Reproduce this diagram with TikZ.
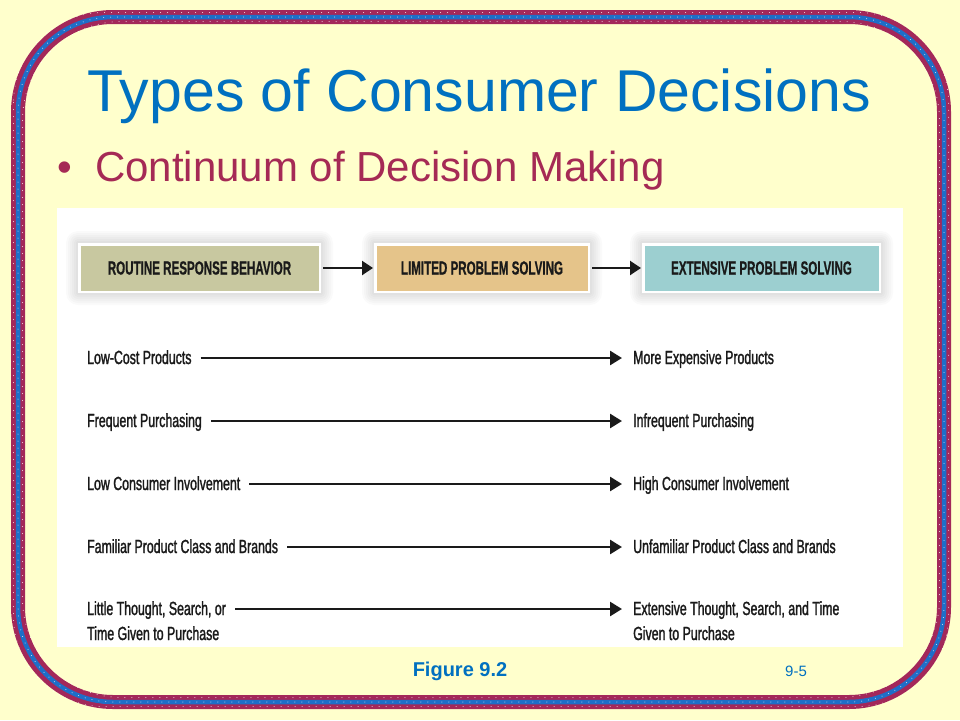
\documentclass[tikz,border=0pt]{standalone}
\usepackage{fontspec}
\setmainfont{Liberation Sans}
\newfontfamily\condfont[FakeStretch=0.65,FakeBold=1.4]{Liberation Sans}
\newfontfamily\condbfont[FakeStretch=0.61,FakeBold=0.6]{Liberation Sans}
\usetikzlibrary{arrows.meta}
\pgfdeclarelayer{bg}
\pgfdeclarelayer{shad}
\pgfsetlayers{bg,shad,main}
\definecolor{bgyellow}{HTML}{FFFFCC}
\definecolor{bordmaroon}{HTML}{A3285A}
\definecolor{bordblue}{HTML}{1E6EC8}
\definecolor{titleblue}{HTML}{0070C0}
\definecolor{bulletred}{HTML}{A52A55}
\definecolor{boxone}{HTML}{C8C8A0}
\definecolor{boxtwo}{HTML}{E5C48A}
\definecolor{boxthree}{HTML}{9CCFD0}
\definecolor{inkdark}{HTML}{1A1A1A}
\tikzset{
  stagebox/.style={draw=white, line width=2.5pt, minimum height=47.5pt, inner sep=0pt,
    font=\condbfont\bfseries\fontsize{19}{22}\selectfont, text=inkdark},
  rowtext/.style={inner sep=0pt, anchor=base west, text=inkdark,
    font=\condfont\fontsize{19}{22}\selectfont},
  rowarrow/.style={line width=2.6pt, -{Triangle[length=12pt,width=14pt]}, inkdark},
  stagearrow/.style={line width=2.4pt, -{Triangle[length=11pt,width=14pt]}, inkdark},
  dotrow/.style={white, opacity=0.85, line width=1pt, line cap=round, dash pattern=on 0pt off 7pt}
}
\begin{document}
\begin{tikzpicture}[x=1pt,y=-1pt]
\begin{pgfonlayer}{bg}
  \fill[bgyellow] (0,0) rectangle (960,720);
  \draw[bordmaroon, line width=14pt, rounded corners=95pt] (18,17) rectangle (944,702);
  \draw[bordblue, line width=4.5pt, rounded corners=95pt] (18,17) rectangle (944,702);
  \draw[dotrow, rounded corners=90pt] (13.5,12.5) rectangle (948.5,706.5);
  \draw[dotrow, rounded corners=95pt] (18,17) rectangle (944,702);
  \draw[dotrow, rounded corners=99pt] (22.5,21.5) rectangle (939.5,697.5);
  \fill[white] (57,208) rectangle (903,647);
\end{pgfonlayer}

% title and bullet
\node[anchor=base, inner sep=0pt, text=titleblue, font=\fontsize{59}{66}\selectfont]
  (title) at (479,111) {Types of Consumer Decisions};
\node[anchor=base west, inner sep=0pt, text=bulletred, font=\fontsize{42}{48}\selectfont]
  (bul) at (57,181) {•};
\node[anchor=base west, inner sep=0pt, text=bulletred, font=\fontsize{42}{48}\selectfont]
  (sub) at (95,181) {Continuum of Decision Making};

% stage boxes
\node[stagebox, fill=boxone, minimum width=240.5pt] (b1) at (199.5,268) {ROUTINE RESPONSE BEHAVIOR};
\node[stagebox, fill=boxtwo, minimum width=213.5pt] (b2) at (482,268) {LIMITED PROBLEM SOLVING};
\node[stagebox, fill=boxthree, minimum width=236.5pt] (b3) at (761.5,268) {EXTENSIVE PROBLEM SOLVING};
\begin{pgfonlayer}{shad}
  \foreach \n in {b1,b2,b3}{
    \foreach \s in {2,4,...,12}{
      \fill[black, opacity=0.018, rounded corners=\s pt]
        ([xshift=-\s pt, yshift=-\s pt]\n.south west) rectangle ([xshift=\s pt, yshift=\s pt]\n.north east);
    }
  }
\end{pgfonlayer}
\draw[stagearrow] ([xshift=2pt]b1.east) -- ([xshift=-1pt]b2.west);
\draw[stagearrow] ([xshift=2pt]b2.east) -- ([xshift=-1pt]b3.west);

% rows
\node[rowtext] (l1) at (87,364) {Low-Cost Products};
\node[rowtext] (r1) at (633,364) {More Expensive Products};
\node[rowtext] (l2) at (87,427) {Frequent Purchasing};
\node[rowtext] (r2) at (633,427) {Infrequent Purchasing};
\node[rowtext] (l3) at (87,490) {Low Consumer Involvement};
\node[rowtext] (r3) at (633,490) {High Consumer Involvement};
\node[rowtext] (l4) at (87,553) {Familiar Product Class and Brands};
\node[rowtext] (r4) at (633,553) {Unfamiliar Product Class and Brands};
\node[rowtext] (l5) at (87,615) {Little Thought, Search, or};
\node[rowtext] (l5b) at (87,640) {Time Given to Purchase};
\node[rowtext] (r5) at (633,615) {Extensive Thought, Search, and Time};
\node[rowtext] (r5b) at (633,640) {Given to Purchase};
\foreach \i in {1,...,5}{
  \draw[rowarrow] ([xshift=9pt, yshift=6pt]l\i.base east) -- ([xshift=-11pt, yshift=6pt]r\i.base west);
}

% footer
\node[anchor=base, inner sep=0pt, text=titleblue, font=\bfseries\fontsize{20}{24}\selectfont]
  (fig) at (460,676) {Figure 9.2};
\node[anchor=base west, inner sep=0pt, text=titleblue, font=\fontsize{15}{18}\selectfont]
  (pg) at (785,676) {9-5};
\end{tikzpicture}
\end{document}
